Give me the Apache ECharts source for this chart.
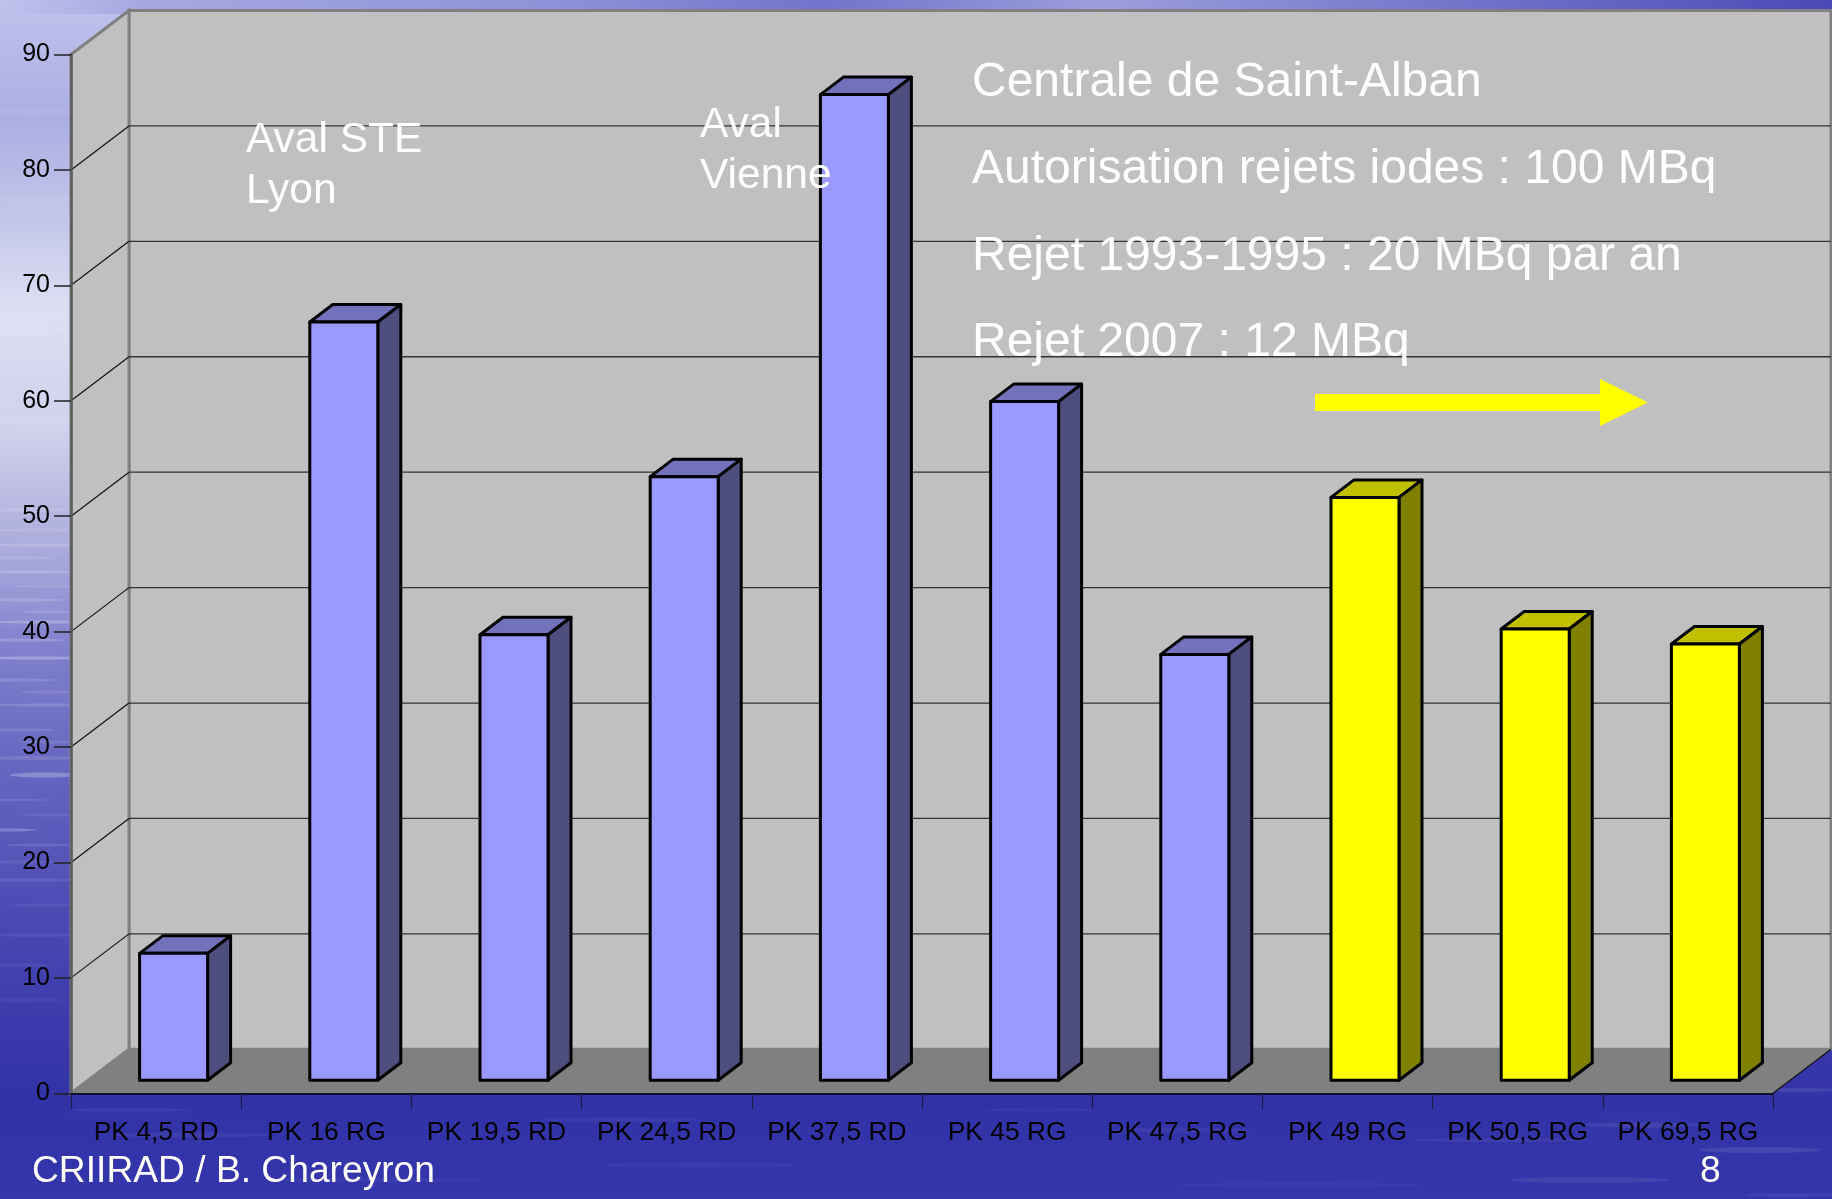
<!DOCTYPE html>
<html><head><meta charset="utf-8">
<style>html,body{margin:0;padding:0;background:#3232a8}#c{width:1832px;height:1199px}</style>
<script src="https://cdn.jsdelivr.net/npm/echarts@6/dist/echarts.min.js"></script>
</head><body><div id="c"></div>
<script>
const categories = ['PK 4,5 RD','PK 16 RG','PK 19,5 RD','PK 24,5 RD','PK 37,5 RD','PK 45 RG','PK 47,5 RG','PK 49 RG','PK 50,5 RG','PK 69,5 RG'];
const blueValues = [11.0, 65.7, 38.6, 52.3, 85.4, 58.8, 36.9];
const yellowValues = [50.5, 39.1, 37.8];
const yTicks = [0,10,20,30,40,50,60,70,80,90];
const infoLines = ['Centrale de Saint-Alban','Autorisation rejets iodes : 100 MBq','Rejet 1993-1995 : 20 MBq par an','Rejet 2007 : 12 MBq'];
const infoCentersY = [83, 170, 257, 343];
const footerLeft = 'CRIIRAD / B. Chareyron';
const footerRight = '8';
// [x, y, halfWidth, halfHeight, opacity] : pale water streaks
const paleStreaks = [
 [30,112,50,4,.05],[40,200,60,4,.05],[25,330,45,6,.06],[40,420,55,6,.05],[25,510,45,2,.10],[40,530,50,1.5,.09],[40,545,55,1.5,.14],[15,558,40,1.5,.10],[30,572,45,1.5,.18],[50,586,35,1.5,.10],
 [20,600,45,1.5,.16],[50,612,30,1.5,.12],[45,622,50,1.5,.22],[25,640,40,1.5,.18],[35,658,55,1.5,.26],[15,680,40,1.5,.14],[50,692,30,1.5,.10],[45,705,50,1.5,.14],[20,730,35,1.5,.12],[50,742,30,1.5,.10],
 [30,758,50,2,.12],[45,775,35,2.5,.24],[15,800,35,1,.10],[50,815,30,1.5,.08],[10,830,28,1.5,.22],[40,845,35,1.5,.10],[20,862,40,1.5,.07],[25,880,55,2,.08],[45,905,35,1.5,.06],[40,935,45,2,.06],[15,965,40,1.5,.05],[20,1000,45,2,.05],
 [190,1135,80,2.5,.05],[130,1110,60,2,.05],[620,1120,80,2.5,.04],[700,1165,100,3,.03],[1040,1110,60,1.5,.03],[1180,1130,70,2.5,.04],[1300,1185,120,2.5,.04],
 [1590,1180,80,3,.07],[1640,1125,60,2.5,.07],[1760,1150,60,3,.09],[1800,1090,35,2,.09],[1790,1195,45,2,.06],[1500,1140,90,2,.05],[380,1180,100,2.5,.04]
];

const DEPTH_X = 58, DEPTH_Y = 44;
const BAR_OFF_X = 17.5, BAR_OFF_Y = 13, BAR_D_X = 23, BAR_D_Y = 17.5, BAR_W = 68;

function renderWall(params, api){
  const cs = params.coordSys;
  const v = api.value(0);
  const y = api.coord([0, v])[1];
  const x0 = cs.x, x1 = cs.x + cs.width;
  const children = [];
  if (params.dataIndex === 0) {
    const top = cs.y, bot = cs.y + cs.height;
    children.push(
      {type:'polygon',shape:{points:[[x0+DEPTH_X,top-DEPTH_Y],[x1+DEPTH_X,top-DEPTH_Y],[x1+DEPTH_X,bot-DEPTH_Y],[x0+DEPTH_X,bot-DEPTH_Y]]},style:{fill:'#c0c0c0',stroke:'#808080',lineWidth:3}},
      {type:'polygon',shape:{points:[[x0,top],[x0+DEPTH_X,top-DEPTH_Y],[x0+DEPTH_X,bot-DEPTH_Y],[x0,bot]]},style:{fill:'#c0c0c0',stroke:'#808080',lineWidth:3}},
      {type:'polygon',shape:{points:[[x0,bot],[x0+DEPTH_X,bot-DEPTH_Y],[x1+DEPTH_X,bot-DEPTH_Y],[x1,bot]]},style:{fill:'#808080'}},
      {type:'line',shape:{x1:x1,y1:bot,x2:x1+DEPTH_X,y2:bot-DEPTH_Y},style:{stroke:'#111',lineWidth:1.2}}
    );
  } else if (v < 90) {
    children.push(
      {type:'line',shape:{x1:x0,y1:y,x2:x0+DEPTH_X,y2:y-DEPTH_Y},style:{stroke:'#111',lineWidth:1.2}},
      {type:'line',shape:{x1:x0+DEPTH_X,y1:y-DEPTH_Y,x2:x1+DEPTH_X,y2:y-DEPTH_Y},style:{stroke:'#333',lineWidth:1.3}}
    );
  }
  return {type:'group',children};
}
function bar3d(front, top, side, offset){
  return function(params, api){
    const idx = params.dataIndex + offset;
    const c = api.coord([idx, api.value(0)]);
    const b = api.coord([idx, 0]);
    const l = c[0] + BAR_OFF_X - BAR_W/2, r = l + BAR_W;
    const t = c[1] - BAR_OFF_Y, d = b[1] - BAR_OFF_Y;
    const s = {stroke:'#000',lineWidth:3,lineJoin:'round'};
    return {type:'group',children:[
      {type:'polygon',shape:{points:[[l,t],[l+BAR_D_X,t-BAR_D_Y],[r+BAR_D_X,t-BAR_D_Y],[r,t]]},style:{fill:top,...s}},
      {type:'polygon',shape:{points:[[r,t],[r+BAR_D_X,t-BAR_D_Y],[r+BAR_D_X,d-BAR_D_Y],[r,d]]},style:{fill:side,...s}},
      {type:'rect',shape:{x:l,y:t,width:BAR_W,height:d-t},style:{fill:front,...s}}
    ]};
  };
}
const F = '"Liberation Sans", Arial, sans-serif';
const white = (text,x,y,size,extra) => ({type:'text',z:100,x,y,style:{text,fill:'#fff',font:size+'px '+F,textAlign:'left',textVerticalAlign:'middle',...(extra||{})}});
const shadow = {shadowColor:'rgba(0,0,20,.75)',shadowOffsetX:2,shadowOffsetY:2,shadowBlur:1};

const graphic = [
  {type:'rect',z:-20,silent:true,shape:{x:0,y:0,width:1832,height:1199},style:{fill:new echarts.graphic.LinearGradient(0,0,0,1,[
    {offset:0,color:'#c0c3ec'},{offset:.1,color:'#abaee2'},{offset:.19,color:'#c6c8ea'},{offset:.26,color:'#dddff3'},
    {offset:.36,color:'#cfd0eb'},{offset:.46,color:'#aaaadc'},{offset:.54,color:'#7f7fce'},{offset:.63,color:'#6767c2'},
    {offset:.75,color:'#4c4cb5'},{offset:.84,color:'#3c3cad'},{offset:.92,color:'#3232a8'},{offset:1,color:'#3535ac'}])}},
  {type:'rect',z:-19,silent:true,shape:{x:0,y:0,width:1832,height:14},style:{fill:new echarts.graphic.LinearGradient(0,0,1,0,[
    {offset:0,color:'rgba(165,168,224,0)'},{offset:.08,color:'#a5a8e0'},{offset:.3,color:'#8f92d8'},{offset:.45,color:'#7274cc'},{offset:.6,color:'#9c9edc'},{offset:.78,color:'#7678cc'},{offset:1,color:'#4a4ab6'}])}},
  ...paleStreaks.map(s=>({type:'ellipse',z:-18,silent:true,shape:{cx:s[0],cy:s[1],rx:s[2],ry:s[3]},style:{fill:'rgba(255,255,255,'+s[4]+')',shadowColor:'rgba(255,255,255,'+s[4]+')',shadowBlur:8}})),
  {type:'polygon',z:50,silent:true,shape:{points:[[1315,394],[1600,394],[1600,379],[1648,402.5],[1600,426],[1600,411],[1315,411]]},style:{fill:'#ffff00'}},
  white('Aval STE',246,140,42.5), white('Lyon',246,191,42.5),
  white('Aval',700,125,42.5), white('Vienne',700,176,42.5),
  ...infoLines.map((t,i)=>white(t,972,infoCentersY[i],48)),
  white(footerLeft,32,1172,37.2,shadow),
  white(footerRight,1700,1172,37.2,shadow)
];

const chart = echarts.init(document.getElementById('c'),null,{renderer:'canvas'});
chart.setOption({
  animation:false,
  backgroundColor:'transparent',
  graphic,
  grid:{left:71,right:59,top:54.5,bottom:105.7,containLabel:false},
  xAxis:{type:'category',data:categories,z:5,
    axisLine:{lineStyle:{color:'#000',width:1.5}},
    axisTick:{show:true,length:16,alignWithLabel:false,interval:0,lineStyle:{color:'#1a1a4a',width:1.2}},
    axisLabel:{interval:0,color:'#000',fontFamily:'Liberation Sans',fontSize:26.4,margin:26,hideOverlap:false}},
  yAxis:{type:'value',min:0,max:90,interval:10,z:5,splitLine:{show:false},
    axisLine:{show:true,lineStyle:{color:'#5c5c5c',width:2.5}},
    axisTick:{show:true,length:17,lineStyle:{color:'#222',width:1.5}},
    axisLabel:{color:'#000',fontFamily:'Liberation Sans',fontSize:25,margin:21,formatter:v=>yTicks.includes(v)?String(v):''}},
  series:[
    {type:'custom',name:'walls',z:1,silent:true,renderItem:renderWall,data:yTicks.map(v=>[v]),encode:{y:0}},
    {type:'custom',name:'amont',z:6,silent:true,renderItem:bar3d('#9999ff','#7272bc','#4d4d7e',0),data:blueValues.map(v=>[v]),encode:{y:0}},
    {type:'custom',name:'aval',z:6,silent:true,renderItem:bar3d('#ffff00','#c0c000','#808000',blueValues.length),data:yellowValues.map(v=>[v]),encode:{y:0}}
  ]
});
</script></body></html>
